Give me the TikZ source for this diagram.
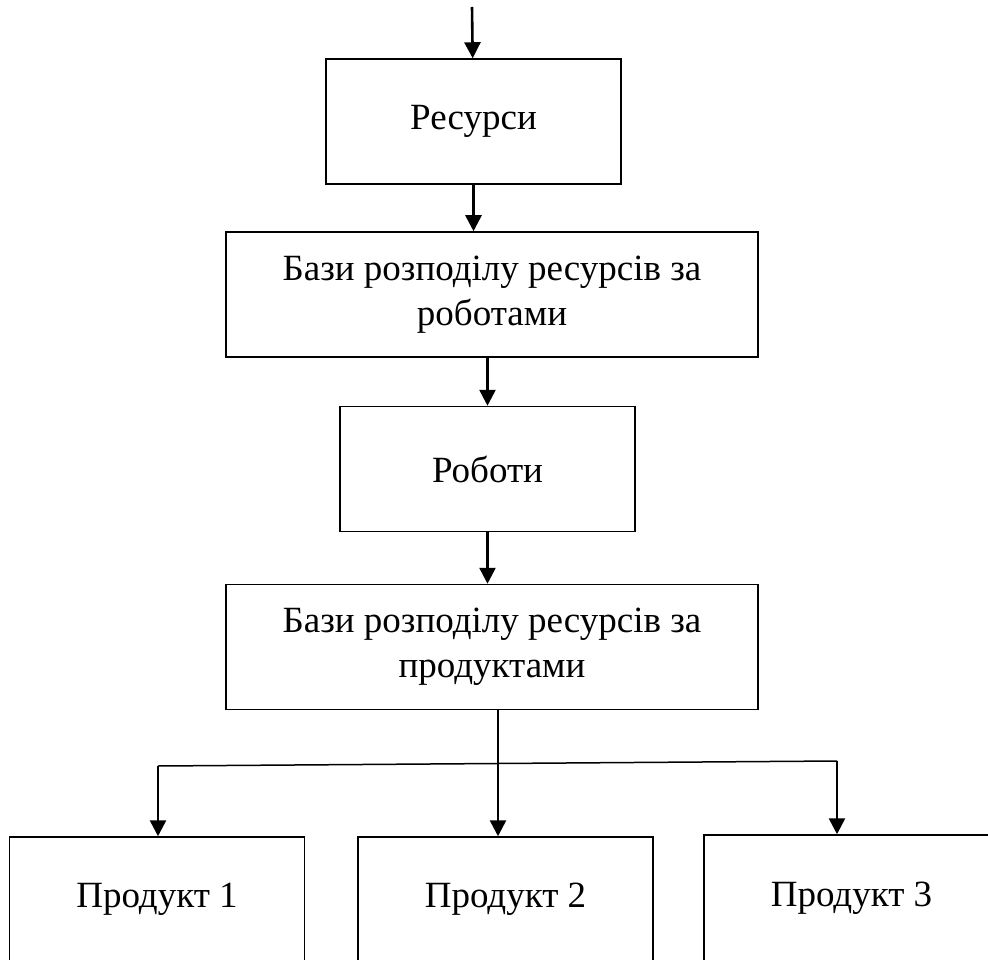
\documentclass[tikz,border=0pt]{standalone}
\usepackage{fontspec}
\setmainfont{Liberation Serif}
\usetikzlibrary{arrows.meta}

\begin{document}
\begin{tikzpicture}[x=1pt,y=-1pt,
                    block/.style={draw,line width=1.5pt,minimum width=295pt,minimum height=125pt,
                                  inner sep=0pt,align=center,font=\fontsize{37}{45}\selectfont},
                    wide/.style={block,minimum width=532pt},
                    arr/.style={-{Triangle[length=16pt,width=16pt]},line width=2.6pt},
                    link/.style={line width=1.5pt}]
  \useasboundingbox (0,0) rectangle (988,960);
  \clip (0,0) rectangle (988,960);
  \node[block] (res) at (473.5,121.5) {Ресурси};
  \node[wide] (bazrob) at (492,294.5) {Бази розподілу ресурсів за\\роботами};
  \node[block] (rob) at (487.5,469) {Роботи};
  \node[wide] (bazprod) at (492,647) {Бази розподілу ресурсів за\\продуктами};
  \node[block] (prod1) at (157,899.5) {Продукт 1};
  \node[block] (prod2) at (505.5,899.5) {Продукт 2};
  \node[block,minimum height=127pt] (prod3) at (851.5,898.5) {Продукт 3};
  \coordinate (in) at (472,7);
  \coordinate (split) at (498,763);
  \coordinate (forkl) at (158,766);
  \coordinate (forkr) at (837,761);
  \draw[arr] (in) -- (res);
  \draw[arr] (res) -- (res.south |- bazrob.north);
  \draw[arr] (rob.north |- bazrob.south) -- (rob);
  \draw[arr] (rob) -- (rob.south |- bazprod.north);
  \draw[link] (forkl) -- (forkr);
  \draw[arr] (bazprod.south -| split) -- (split) -- (split |- prod2.north);
  \draw[arr] (forkl) -- (forkl |- prod1.north);
  \draw[arr] (forkr) -- (forkr |- prod3.north);
\end{tikzpicture}
\end{document}
